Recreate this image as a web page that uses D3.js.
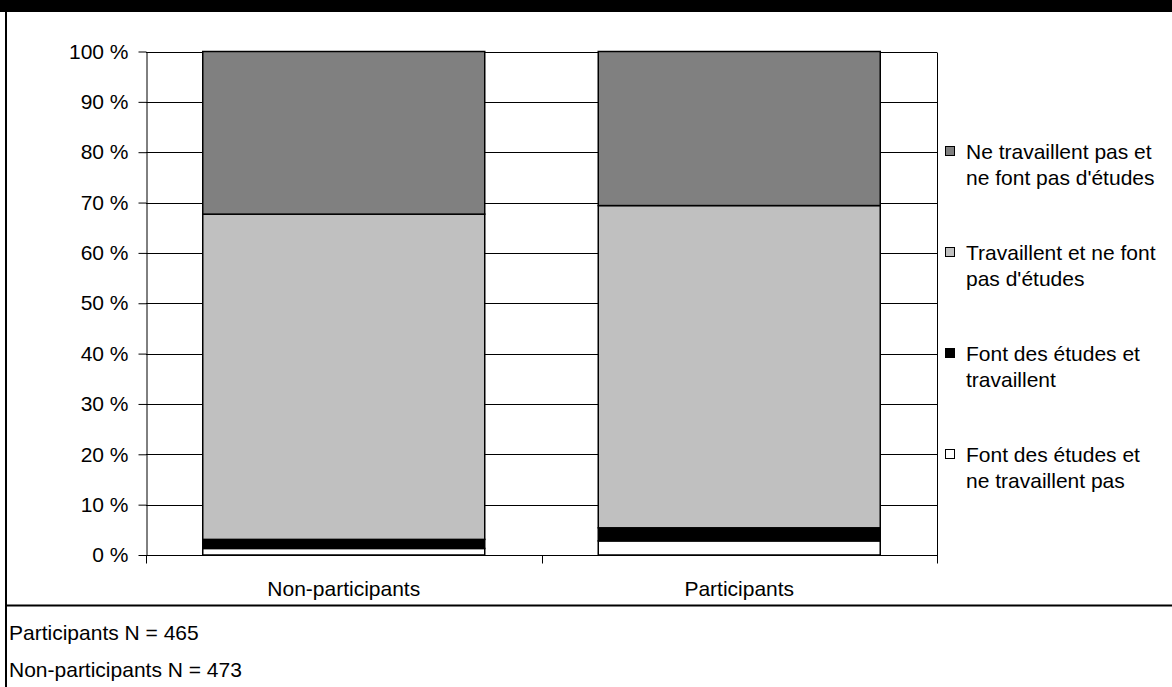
<!DOCTYPE html>
<html>
<head>
<meta charset="utf-8">
<script src="https://cdn.jsdelivr.net/npm/d3@7"></script>
<style>
  body { margin: 0; background: #fff; }
  svg text { font-family: "Liberation Sans", Arial, sans-serif; fill: #000; }
</style>
</head>
<body>
<script>
// data (percent, bottom segment first)
const categories = ["Non-participants", "Participants"];
const seriesNames = [
  ["Font des études et", "ne travaillent pas"],
  ["Font des études et", "travaillent"],
  ["Travaillent et ne font", "pas d'études"],
  ["Ne travaillent pas et", "ne font pas d'études"]
];
const seriesColors = ["#ffffff", "#000000", "#c0c0c0", "#808080"];
const nonParticipants = [1.3, 1.8, 64.6, 32.3];
const participants = [2.8, 2.6, 64.0, 30.6];
const yTicks = [0, 10, 20, 30, 40, 50, 60, 70, 80, 90, 100];
const footNotes = ["Participants N = 465", "Non-participants N = 473"];

const W = 1172, H = 687;
const plot = { left: 146, right: 937, top: 51.5, bottom: 555 };
const fs = 21;

const svg = d3.select("body").append("svg")
  .attr("width", W).attr("height", H);

// frame: black band on top, left border, footer separator
svg.append("rect").attr("x", 0).attr("y", 0).attr("width", W).attr("height", 12).attr("fill", "#000");
svg.append("rect").attr("x", 5).attr("y", 0).attr("width", 2).attr("height", H).attr("fill", "#000");
svg.append("rect").attr("x", 5).attr("y", 604.5).attr("width", W - 5).attr("height", 2).attr("fill", "#000");

const x = d3.scaleBand().domain(categories).range([plot.left, plot.right]).paddingInner(0.287).paddingOuter(0.1435);
const xEdges = d3.scaleBand().domain(categories).range([plot.left, plot.right]);
const y = d3.scaleLinear().domain([0, 100]).range([plot.bottom, plot.top]);

// gridlines
svg.append("g").selectAll("line").data(yTicks.slice(1)).join("line")
  .attr("x1", plot.left).attr("x2", plot.right)
  .attr("y1", d => Math.round(y(d)) + 0.5).attr("y2", d => Math.round(y(d)) + 0.5)
  .attr("stroke", "#000").attr("stroke-width", 1);
svg.append("line")
  .attr("x1", plot.right + 0.5).attr("x2", plot.right + 0.5)
  .attr("y1", Math.round(y(100)) + 0.5).attr("y2", plot.bottom)
  .attr("stroke", "#000");

// stacked bars
const rows = categories.map((c, i) => {
  const vals = i === 0 ? nonParticipants : participants;
  const r = { cat: c };
  vals.forEach((v, k) => r["s" + k] = v);
  return r;
});
const keys = seriesNames.map((d, k) => "s" + k);
const stacked = d3.stack().keys(keys)(rows);

svg.append("g").selectAll("g").data(stacked).join("g")
  .attr("fill", (d, k) => seriesColors[k])
  .selectAll("rect").data(d => d).join("rect")
  .attr("x", d => x(d.data.cat))
  .attr("width", x.bandwidth())
  .attr("y", d => y(d[1]))
  .attr("height", d => y(d[0]) - y(d[1]))
  .attr("stroke", "#000").attr("stroke-width", 1.5);

// y axis
const yAxis = svg.append("g").attr("transform", `translate(${plot.left + 0.5},0)`)
  .call(d3.axisLeft(y).tickValues(yTicks).tickSize(8).tickSizeOuter(0).tickPadding(10).tickFormat(d => d + " %"));
yAxis.selectAll("text").attr("font-size", fs);

// x axis
const xAxis = svg.append("g").attr("transform", `translate(0,${plot.bottom + 0.5})`);
xAxis.append("line").attr("x1", plot.left).attr("x2", plot.right + 1).attr("stroke", "#000");
const edges = [plot.left, xEdges(categories[1]), plot.right];
xAxis.selectAll(".tk").data(edges).join("line").attr("class", "tk")
  .attr("x1", d => Math.round(d) + 0.5).attr("x2", d => Math.round(d) + 0.5)
  .attr("y1", 0).attr("y2", 8).attr("stroke", "#000");
xAxis.selectAll("text").data(categories).join("text")
  .attr("x", d => x(d) + x.bandwidth() / 2).attr("y", 40)
  .attr("text-anchor", "middle").attr("font-size", fs).text(d => d);

// legend, top entry first
const legend = svg.append("g");
const order = [3, 2, 1, 0];
order.forEach((k, i) => {
  const gy = 152 + i * 101;
  legend.append("rect").attr("x", 945.5).attr("y", gy - 5.5).attr("width", 9).attr("height", 9)
    .attr("fill", seriesColors[k]).attr("stroke", "#000");
  seriesNames[k].forEach((line, j) => {
    legend.append("text").attr("x", 966).attr("y", gy + j * 26 + 7)
      .attr("font-size", fs).text(line);
  });
});

// footnotes
svg.selectAll(".foot").data(footNotes).join("text").attr("class", "foot")
  .attr("x", 9).attr("y", (d, i) => 640 + i * 37).attr("font-size", fs).text(d => d);
</script>
</body>
</html>
